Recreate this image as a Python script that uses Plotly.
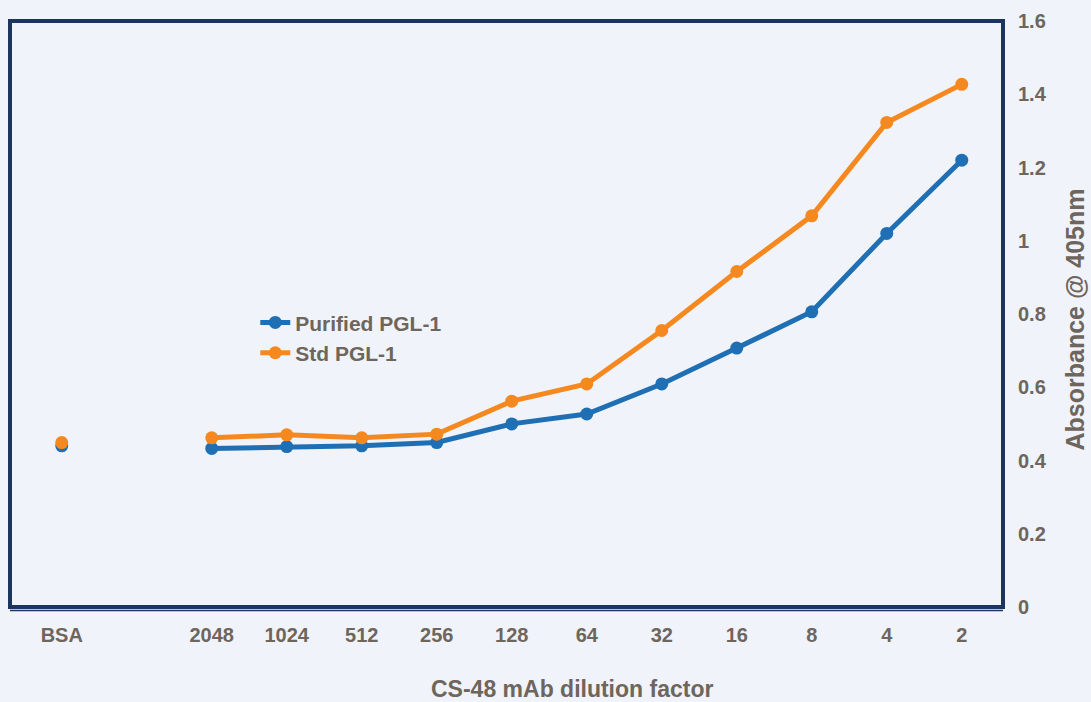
import plotly.graph_objects as go

categories = ["BSA", " ", "2048", "1024", "512", "256", "128", "64", "32", "16", "8", "4", "2"]
purified = [0.44, None, 0.433, 0.438, 0.44, 0.449, 0.50, 0.527, 0.609, 0.707, 0.806, 1.02, 1.22]
std = [0.449, None, 0.462, 0.47, 0.462, 0.472, 0.562, 0.609, 0.755, 0.916, 1.068, 1.323, 1.427]
y_ticks = [0, 0.2, 0.4, 0.6, 0.8, 1, 1.2, 1.4, 1.6]
y_ticktext = ["0", "0.2", "0.4", "0.6", "0.8", "1", "1.2", "1.4", "1.6"]

BLUE = "#1f6fb4"
ORANGE = "#f5891f"
NAVY = "#1c355e"
GRAY = "#6e655c"
BG = "#f0f3f9"
FONT = "Liberation Sans, Arial, sans-serif"

fig = go.Figure()
fig.add_trace(go.Scatter(
    x=categories, y=purified, name="Purified PGL-1", mode="lines+markers",
    line=dict(color=BLUE, width=5), marker=dict(color=BLUE, size=13),
    connectgaps=False,
))
fig.add_trace(go.Scatter(
    x=categories, y=std, name="Std PGL-1", mode="lines+markers",
    line=dict(color=ORANGE, width=5), marker=dict(color=ORANGE, size=13),
    connectgaps=False,
))

fig.update_layout(
    width=1091, height=702,
    margin=dict(l=10, r=88, t=18, b=95),
    paper_bgcolor=BG, plot_bgcolor=BG,
    font=dict(family=FONT, color=GRAY, size=20),
    showlegend=True,
    legend=dict(
        x=0.247, y=0.52, xanchor="left", yanchor="top",
        bgcolor="rgba(0,0,0,0)", borderwidth=0,
        font=dict(family=FONT, size=21, color=GRAY, weight="bold"),
        tracegroupgap=0, itemwidth=30,
    ),
    xaxis=dict(
        type="category", categoryorder="array", categoryarray=categories,
        range=[-0.69, 12.55], showgrid=False, zeroline=False, showline=False,
        ticks="", tickfont=dict(family=FONT, size=20, color=GRAY, weight="bold"),
        ticklabelstandoff=14,
    ),
    yaxis=dict(
        side="right", range=[0, 1.6], tickvals=y_ticks, ticktext=y_ticktext,
        showgrid=False, zeroline=False, showline=False, ticks="",
        tickfont=dict(family=FONT, size=20, color=GRAY, weight="bold"),
        ticklabelstandoff=14,
    ),
    shapes=[
        dict(type="rect", xref="paper", yref="paper", x0=0, x1=1, y0=0, y1=1,
             line=dict(color=NAVY, width=4), layer="above"),
        dict(type="line", xref="paper", yref="paper", x0=0, x1=1, y0=-0.006, y1=-0.006,
             line=dict(color=NAVY, width=1.5), layer="above"),
    ],
    annotations=[
        dict(text="<b>CS-48 mAb dilution factor</b>", xref="paper", yref="paper",
             x=(572 - 10) / 993, y=(607 - 689) / 589, xanchor="center", yanchor="middle",
             showarrow=False, font=dict(family=FONT, size=23, color=GRAY)),
        dict(text="<b>Absorbance @ 405nm</b>", xref="paper", yref="paper",
             x=(1075 - 10) / 993, y=(607 - 318) / 589, xanchor="center", yanchor="middle",
             textangle=-90, showarrow=False, font=dict(family=FONT, size=25, color=GRAY)),
    ],
)

fig.write_html(
    "out.html",
    config={"displayModeBar": False},
    post_script="document.body.style.margin='0';document.body.style.background='%s';" % BG,
)
